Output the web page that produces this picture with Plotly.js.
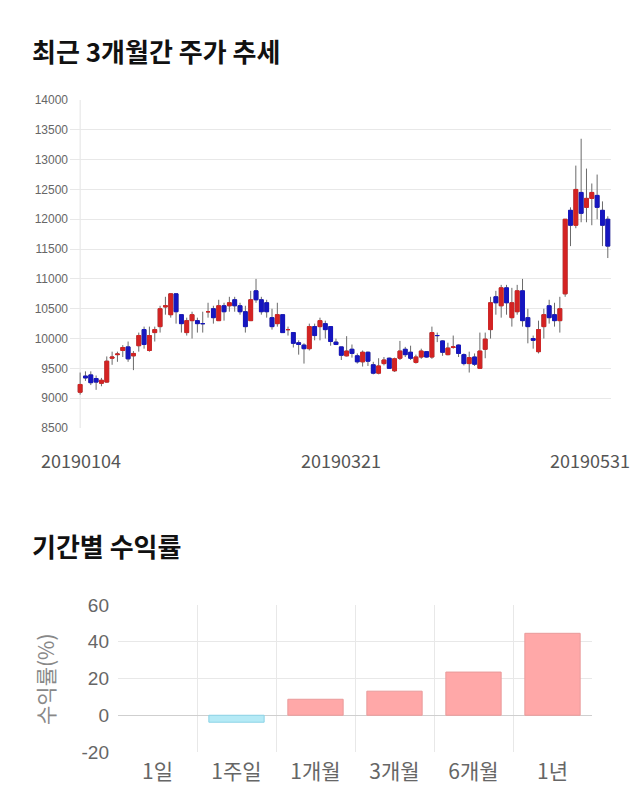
<!DOCTYPE html>
<html>
<head>
<meta charset="utf-8">
<script src="https://cdn.plot.ly/plotly-3.0.1.min.js"></script>
<style>
html,body{margin:0;padding:0;background:#fff;}
#chart{width:640px;height:810px;}
</style>
</head>
<body>
<div id="chart"></div>
<script>
// ---- candlestick data (최근 3개월간 주가 추세) ----
const dates = [
 '20190104','20190107','20190108','20190109','20190110','20190111','20190114','20190115','20190116','20190117',
 '20190118','20190121','20190122','20190123','20190124','20190125','20190128','20190129','20190130','20190131',
 '20190201','20190207','20190208','20190211','20190212','20190213','20190214','20190215','20190218','20190219',
 '20190220','20190221','20190222','20190225','20190226','20190227','20190228','20190304','20190305','20190306',
 '20190307','20190308','20190311','20190312','20190313','20190314','20190315','20190318','20190319','20190320',
 '20190321','20190322','20190325','20190326','20190327','20190328','20190329','20190401','20190402','20190403',
 '20190404','20190405','20190408','20190409','20190410','20190411','20190412','20190415','20190416','20190417',
 '20190418','20190419','20190422','20190423','20190424','20190425','20190426','20190429','20190430','20190502',
 '20190503','20190507','20190508','20190509','20190510','20190513','20190514','20190515','20190516','20190517',
 '20190520','20190521','20190522','20190523','20190524','20190527','20190528','20190529','20190530','20190531'
];
const openP = [
 9100,9370,9390,9330,9250,9270,9670,9730,9800,9860,
 9710,9880,10150,9800,10100,10200,10530,10400,10750,10400,
 10100,10300,10300,10250,10450,10500,10300,10550,10550,10650,
 10550,10450,10300,10800,10650,10600,10350,10250,10400,10150,
 10100,9930,9890,9830,10200,10200,10250,10200,9940,9860,
 9710,9820,9710,9610,9770,9560,9420,9580,9670,9460,
 9670,9820,9770,9600,9690,9780,9690,10050,9960,9730,
 9850,9890,9730,9580,9690,9500,9820,10150,10700,10550,
 10850,10350,10450,10800,10350,10000,9780,10200,10550,10400,
 10300,10750,12150,11900,12450,12200,12350,12400,12150,12000
];
const highP = [
 9430,9450,9450,9380,9340,9700,9780,9780,9890,9950,
 9790,10100,10200,10200,10200,10550,10700,10750,10750,10400,
 10350,10450,10350,10450,10600,10550,10650,10600,10700,10700,
 10600,10550,10800,11000,10700,10650,10500,10600,10400,10200,
 10100,9970,9920,10250,10250,10350,10300,10200,10000,9860,
 10040,9900,9750,9800,9780,9610,9670,9690,9680,9680,
 9960,9860,9880,9730,9830,9790,10200,10100,9970,9930,
 10050,9900,9750,9780,9750,10100,10100,10700,10800,10900,
 10900,10850,10900,11000,10500,10050,10300,10500,10650,10600,
 10700,12000,12200,12900,13350,12850,12600,12750,12300,12050
];
const lowP = [
 9060,9290,9220,9140,9200,9260,9560,9610,9690,9610,
 9470,9780,9830,9780,9950,10100,10400,10350,10250,10100,
 10050,10000,10100,10100,10350,10250,10300,10300,10450,10450,
 10400,10100,10300,10600,10400,10350,10150,10200,10100,10050,
 9850,9730,9580,9800,9970,9970,10000,9880,9890,9640,
 9700,9680,9580,9530,9540,9400,9400,9550,9490,9440,
 9640,9690,9640,9580,9660,9680,9660,9940,9710,9720,
 9830,9690,9550,9430,9540,9490,9670,10000,10400,10350,
 10400,10200,10400,10200,9920,9830,9750,10000,10250,10200,
 10100,10700,11550,11850,11950,11950,11900,12000,11550,11350
];
const closeP = [
 9230,9340,9260,9270,9300,9620,9690,9740,9850,9660,
 9750,10050,9900,10050,10150,10500,10550,10750,10450,10250,
 10300,10400,10250,10250,10450,10350,10550,10450,10600,10550,
 10450,10200,10650,10650,10450,10450,10200,10400,10100,10150,
 9920,9900,9830,10200,10050,10300,10150,9950,9900,9720,
 9790,9750,9610,9770,9620,9420,9540,9640,9500,9660,
 9790,9730,9670,9690,9790,9690,10100,10050,9770,9840,
 9860,9750,9580,9680,9570,9790,9990,10600,10600,10850,
 10600,10600,10800,10300,10200,9970,10150,10400,10350,10300,
 10500,12000,11900,12500,12100,12350,12450,12200,11900,11550
];
const priceTicks = ['20190104','20190321','20190531'];
const priceAxisTicks = [8500,9000,9500,10000,10500,11000,11500,12000,12500,13000,13500,14000];

// ---- bar data (기간별 수익률) ----
const periods = ['1일','1주일','1개월','3개월','6개월','1년'];
const returns = [0, -3.8, 8.7, 13.1, 23.5, 44.6];
const returnTicks = [-20, 0, 20, 40, 60];

// ---- build ----
const idx = dates.map((d,i)=>i);
const RED = '#d42323', BLUE = '#1616c0', WICK = '#6a6a6a';

const wickTrace = {
  type:'candlestick', x: idx, open: openP, high: highP, low: lowP, close: closeP,
  increasing:{line:{color:WICK,width:1},fillcolor:WICK},
  decreasing:{line:{color:WICK,width:1},fillcolor:WICK},
  whiskerwidth:0, hoverinfo:'skip', showlegend:false, xaxis:'x', yaxis:'y'
};
const bodyTrace = {
  type:'candlestick', x: idx, open: openP, close: closeP,
  high: openP.map((o,i)=>Math.max(o,closeP[i])),
  low: openP.map((o,i)=>Math.min(o,closeP[i])),
  increasing:{line:{color:RED,width:1},fillcolor:RED},
  decreasing:{line:{color:BLUE,width:1},fillcolor:BLUE},
  whiskerwidth:0, hoverinfo:'skip', showlegend:false, xaxis:'x', yaxis:'y'
};
const barTrace = {
  type:'bar', x: periods, y: returns, width:0.7,
  marker:{
    color: returns.map(v=> v>=0 ? '#ffa8a8' : '#b5eaf6'),
    line:{color: returns.map(v=> v>=0 ? '#e99a9a' : '#8cd3e6'),
          width: returns.map(v=> v===0 ? 0 : 1)}
  },
  hoverinfo:'skip', showlegend:false, xaxis:'x2', yaxis:'y2'
};

const W=640, H=810;
const px = v => v/W, py = v => 1 - v/H;

const tickAnn = priceTicks.map((d,k)=>{
  const i = dates.indexOf(d);
  return {
    xref:'x', yref:'paper', x:i, y:py(460), yanchor:'middle',
    xanchor: k===priceTicks.length-1 ? 'right' : 'center',
    xshift: k===priceTicks.length-1 ? 24 : (k===0 ? 1 : -6),
    text:d, showarrow:false,
    font:{family:'Noto Sans CJK KR, sans-serif', size:18, color:'#555'}
  };
});

const layout = {
  width:W, height:H, margin:{l:0,r:0,t:0,b:0},
  paper_bgcolor:'#fff', plot_bgcolor:'#fff',
  showlegend:false, boxgap:0.1, boxgroupgap:0.2, boxmode:'overlay',
  xaxis:{
    domain:[px(70), px(611)], range:[-1.9, 99.6], showgrid:false, zeroline:false,
    showticklabels:false, ticks:'', showline:false, fixedrange:true,
    rangeslider:{visible:false}
  },
  yaxis:{
    domain:[py(428), py(100)], range:[8500,14000],
    tickmode:'array', tickvals:priceAxisTicks, ticktext:priceAxisTicks.map(String),
    gridcolor:'#e8e8e8', gridwidth:1, zeroline:false, showline:false, ticks:'',
    ticklabelstandoff:1,
    tickfont:{family:'Liberation Sans, Arial, sans-serif', size:12, color:'#666'},
    fixedrange:true
  },
  xaxis2:{
    domain:[px(118), px(592)], type:'category', range:[-0.5,5.5],
    tickson:'boundaries', showgrid:true, gridcolor:'#e8e8e8', ticks:'',
    showline:false, zeroline:false, anchor:'y2', ticklabelstandoff:5,
    tickfont:{family:'Noto Sans CJK KR, sans-serif', size:21, color:'#666'},
    fixedrange:true
  },
  yaxis2:{
    domain:[py(752), py(605)], range:[-20,60], anchor:'x2',
    tickmode:'array', tickvals:returnTicks, ticktext:returnTicks.map(String),
    gridcolor:'#e8e8e8', zeroline:true, zerolinecolor:'#cfcfcf', zerolinewidth:1,
    ticks:'', showline:false, ticklabelstandoff:8,
    tickfont:{family:'Liberation Sans, Arial, sans-serif', size:19, color:'#666'},
    fixedrange:true
  },
  shapes:[
    {type:'line', xref:'x', yref:'paper', x0:0, x1:0, y0:py(428), y1:py(100),
     line:{color:'#e3e3e3', width:1}, layer:'below'}
  ],
  annotations:[
    {xref:'paper', yref:'paper', x:px(30), y:py(50), xanchor:'left', yanchor:'middle',
     text:'<b>최근 3개월간 주가 추세</b>', showarrow:false,
     font:{family:'Noto Sans CJK KR, sans-serif', size:26, color:'#111'}},
    {xref:'paper', yref:'paper', x:px(30), y:py(545), xanchor:'left', yanchor:'middle',
     text:'<b>기간별 수익률</b>', showarrow:false,
     font:{family:'Noto Sans CJK KR, sans-serif', size:26, color:'#111'}},
    {xref:'paper', yref:'paper', x:px(45), y:py(679), xanchor:'center', yanchor:'middle',
     text:'수익률(%)', textangle:-90, showarrow:false,
     font:{family:'Noto Sans CJK KR, sans-serif', size:21, color:'#888'}}
  ].concat(tickAnn)
};

Plotly.newPlot('chart', [wickTrace, bodyTrace, barTrace], layout, {staticPlot:true, displayModeBar:false});
</script>
</body>
</html>
